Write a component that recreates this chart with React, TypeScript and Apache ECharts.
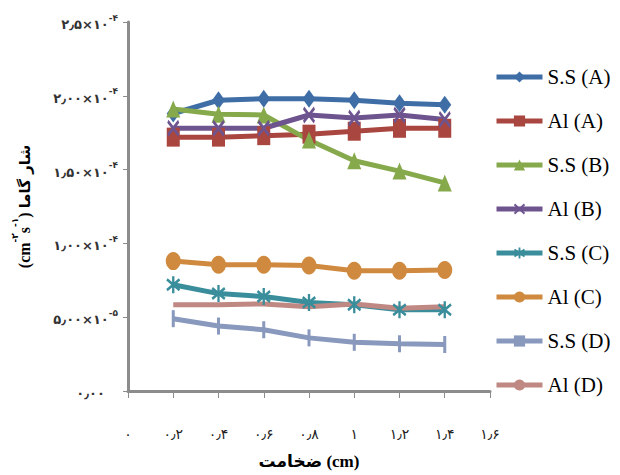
import React, { useEffect, useRef } from "react";
import * as echarts from "echarts";

const xValues = [0.2, 0.4, 0.6, 0.8, 1.0, 1.2, 1.4];
const ssA = [1.88e-4, 1.97e-4, 1.98e-4, 1.98e-4, 1.97e-4, 1.95e-4, 1.94e-4];
const alA = [1.72e-4, 1.72e-4, 1.73e-4, 1.74e-4, 1.76e-4, 1.78e-4, 1.78e-4];
const ssB = [1.91e-4, 1.875e-4, 1.87e-4, 1.7e-4, 1.56e-4, 1.49e-4, 1.41e-4];
const alB = [1.78e-4, 1.78e-4, 1.78e-4, 1.87e-4, 1.85e-4, 1.87e-4, 1.84e-4];
const ssC = [7.2e-5, 6.6e-5, 6.4e-5, 6.0e-5, 5.85e-5, 5.5e-5, 5.5e-5];
const alC = [8.8e-5, 8.55e-5, 8.55e-5, 8.5e-5, 8.15e-5, 8.15e-5, 8.2e-5];
const ssD = [4.9e-5, 4.4e-5, 4.15e-5, 3.6e-5, 3.3e-5, 3.2e-5, 3.15e-5];
const alD = [5.85e-5, 5.85e-5, 5.9e-5, 5.7e-5, 5.9e-5, 5.6e-5, 5.7e-5];

const seriesNames = ["S.S (A)", "Al (A)", "S.S (B)", "Al (B)", "S.S (C)", "Al (C)", "S.S (D)", "Al (D)"];
const seriesColors = ["#3f6ea6", "#a9463f", "#86a94c", "#6e548f", "#3a8e9c", "#d08a3f", "#8899bd", "#c08883"];

const xTickValues = [0, 0.2, 0.4, 0.6, 0.8, 1.0, 1.2, 1.4, 1.6];
const xTickLabels = ["۰", "۰٫۲", "۰٫۴", "۰٫۶", "۰٫۸", "۱", "۱٫۲", "۱٫۴", "۱٫۶"];
const yTickValues = [0, 5e-5, 1e-4, 1.5e-4, 2e-4, 2.5e-4];
const yTickMantissa = ["۰٫۰۰", "۵٫۰۰×۱۰", "۱٫۰۰×۱۰", "۱٫۵۰×۱۰", "۲٫۰۰×۱۰", "۲٫۵×۱۰"];
const yTickExponent = ["", "-۵", "-۴", "-۴", "-۴", "-۴"];

const xTitle = "ضخامت (cm)";
const yTitleUnitParts = ["(cm", "-۲", "s", "-۱", ") "];
const yTitleText = "شار گاما";

const starPath =
  "path://M5,0L7,0L7,12L5,12Z M0,3L1.2,1.4L12,9L10.8,10.6Z M0,9L10.8,1.4L12,3L1.2,10.6Z";
const xPath = "path://M0,3L1.2,1.4L12,9L10.8,10.6Z M0,9L10.8,1.4L12,3L1.2,10.6Z";
const barPath = "path://M0,0L2,0L2,12L0,12Z";

const symbols: any[] = ["diamond", "rect", "triangle", xPath, starPath, "circle", barPath, "none"];
const symbolSizes: any[] = [[13, 18], [13, 19], [14, 17], [12, 17], [14, 17], [15, 18], [3, 17], 0];
const dataSets = [ssA, alA, ssB, alB, ssC, alC, ssD, alD];

export default function App() {
  const ref = useRef<HTMLDivElement>(null);
  useEffect(() => {
    if (!ref.current) return;
    const chart = echarts.init(ref.current, null, { renderer: "svg" });
    const labelFont = "'DejaVu Sans', 'Noto Sans', sans-serif";
    const option: any = {
      animation: false,
      backgroundColor: "#ffffff",
      grid: { left: 128, right: 130, top: 22, bottom: 73 },
      legend: {
        orient: "vertical",
        left: 489,
        top: 60,
        itemWidth: 46,
        itemHeight: 14,
        itemGap: 20,
        lineStyle: { width: 5 },
        textStyle: { fontFamily: "'Liberation Serif', 'Times New Roman', serif", fontSize: 21, color: "#000", lineHeight: 24 },
        data: seriesNames,
      },
      xAxis: {
        type: "value",
        min: 0,
        max: 1.6,
        interval: 0.2,
        name: xTitle,
        nameLocation: "middle",
        nameGap: 62,
        nameTextStyle: { fontFamily: "'Liberation Serif', 'DejaVu Sans', serif", fontSize: 17, fontWeight: "bold", color: "#000" },
        axisLine: { lineStyle: { color: "#8c8c8c", width: 3 } },
        axisTick: { show: true, length: 7, lineStyle: { color: "#8c8c8c", width: 1 } },
        axisLabel: {
          margin: 36,
          color: "#222",
          fontFamily: labelFont,
          fontSize: 14,
          formatter: (v: number) => {
            const i = xTickValues.findIndex((t) => Math.abs(t - v) < 1e-6);
            return i >= 0 ? xTickLabels[i] : "";
          },
        },
        splitLine: { show: false },
      },
      yAxis: {
        type: "value",
        min: 0,
        max: 2.5e-4,
        interval: 5e-5,
        name: "{u|" + yTitleUnitParts[0] + "}{s|" + yTitleUnitParts[1] + "}{u|" + yTitleUnitParts[2] + "}{s|" + yTitleUnitParts[3] + "}{u|" + yTitleUnitParts[4] + "}{t|" + yTitleText + "}",
        nameLocation: "middle",
        nameRotate: 90,
        nameGap: 96,
        nameTextStyle: {
          color: "#000",
          rich: {
            u: { fontFamily: "'Liberation Serif', serif", fontSize: 16, fontWeight: "bold", color: "#000", lineHeight: 22, verticalAlign: "bottom" },
            s: { fontFamily: "'DejaVu Sans', sans-serif", fontSize: 9, fontWeight: "bold", color: "#000", verticalAlign: "top", lineHeight: 22 },
            t: { fontFamily: "'DejaVu Sans', sans-serif", fontSize: 15, fontWeight: "bold", color: "#000", lineHeight: 22, verticalAlign: "bottom" },
          },
        },
        axisLine: { show: true, lineStyle: { color: "#8c8c8c", width: 3 } },
        axisTick: { show: true, length: 5, lineStyle: { color: "#8c8c8c", width: 1 } },
        axisLabel: {
          margin: 10,
          formatter: (v: number) => {
            const i = yTickValues.findIndex((t) => Math.abs(t - v) < 1e-9);
            if (i < 0) return "";
            if (!yTickExponent[i]) return "{m|" + yTickMantissa[i] + "}{p|}";
            return "{m|" + yTickMantissa[i] + "}{e|" + yTickExponent[i] + "}";
          },
          rich: {
            m: { fontFamily: labelFont, fontSize: 13, fontWeight: "bold", color: "#333", lineHeight: 18, verticalAlign: "bottom" },
            e: { fontFamily: labelFont, fontSize: 9, fontWeight: "bold", color: "#333", lineHeight: 18, verticalAlign: "top" },
            p: { width: 13 },
          },
        },
        splitLine: { show: false },
      },
      series: seriesNames.map((name, k) => ({
        name,
        type: "line",
        data: xValues.map((x, i) => [x, dataSets[k][i]]),
        symbol: symbols[k],
        symbolSize: symbolSizes[k],
        showSymbol: symbols[k] !== "none",
        itemStyle: { color: seriesColors[k] },
        lineStyle: { color: seriesColors[k], width: 5 },
        emphasis: { disabled: true },
      })),
    };
    chart.setOption(option);
    return () => chart.dispose();
  }, []);
  return <div ref={ref} style={{ width: 620, height: 475, marginTop: -8, marginLeft: -8 }} />;
}
